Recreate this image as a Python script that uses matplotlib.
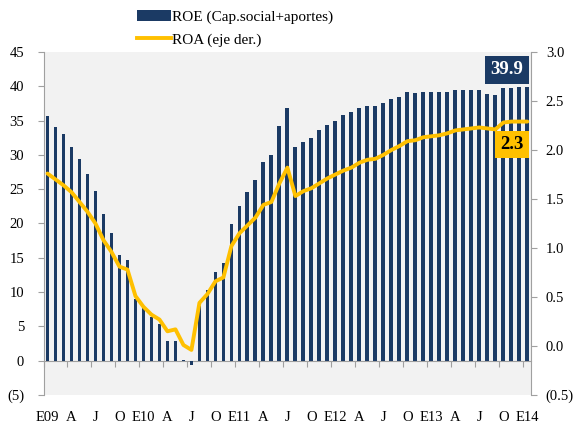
import numpy as np
import matplotlib
matplotlib.use('Agg')
import matplotlib.pyplot as plt
import matplotlib.transforms as mtransforms
from matplotlib.lines import Line2D
from matplotlib.patches import Patch

plt.rcParams['font.family'] = ['Liberation Serif', 'DejaVu Serif']

# ROE mensual (eje izq.) ene-2009 .. ene-2014
roe = [35.7, 34.1, 33.0, 31.1, 29.4, 27.2, 24.8, 21.4, 18.6, 15.4, 14.7, 9.0,
       7.9, 6.3, 5.3, 2.9, 2.9, 0.15, -0.6, 8.0, 10.3, 13.0, 14.2, 19.9,
       22.6, 24.6, 26.4, 29.0, 30.0, 34.2, 36.8, 31.2, 31.9, 32.5, 33.6, 34.4,
       34.9, 35.8, 36.3, 36.9, 37.1, 37.1, 37.5, 38.1, 38.5, 39.1, 39.0, 39.1,
       39.1, 39.2, 39.1, 39.4, 39.4, 39.4, 39.4, 38.9, 38.7, 39.8, 39.8, 39.9,
       39.9]
# ROA (eje der.)
roa = [1.76, 1.70, 1.64, 1.57, 1.47, 1.37, 1.25, 1.08, 0.96, 0.81, 0.78, 0.51,
       0.40, 0.32, 0.27, 0.15, 0.17, 0.01, -0.04, 0.44, 0.53, 0.66, 0.70, 1.02,
       1.15, 1.23, 1.31, 1.44, 1.47, 1.66, 1.82, 1.53, 1.58, 1.61, 1.66, 1.71,
       1.75, 1.79, 1.82, 1.87, 1.90, 1.91, 1.95, 2.00, 2.04, 2.09, 2.10, 2.13,
       2.14, 2.15, 2.17, 2.20, 2.21, 2.22, 2.23, 2.22, 2.21, 2.28, 2.29, 2.29,
       2.29]
month_labels = ['E09', 'A', 'J', 'O', 'E10', 'A', 'J', 'O', 'E11', 'A', 'J', 'O',
                'E12', 'A', 'J', 'O', 'E13', 'A', 'J', 'O', 'E14']
left_ticks = [-5, 0, 5, 10, 15, 20, 25, 30, 35, 40, 45]
left_labels = ['(5)', '0', '5', '10', '15', '20', '25', '30', '35', '40', '45']
right_ticks = [-0.5, 0.0, 0.5, 1.0, 1.5, 2.0, 2.5, 3.0]
right_labels = ['(0.5)', '0.0', '0.5', '1.0', '1.5', '2.0', '2.5', '3.0']

navy = '#1B3A64'
gold = '#FFC000'
grey = '#A0A0A0'

x = np.arange(len(roe))

fig = plt.figure(figsize=(5.73, 4.26), dpi=100)
ax = fig.add_axes([43.5 / 573, 31 / 426, 487 / 573, 343 / 426])
ax.set_facecolor('#F2F2F2')
ax.bar(x, roe, width=0.48, color=navy, zorder=2)
ax.set_xlim(-0.48, 60.4)
ax.set_ylim(-5, 45)

for s in ['top', 'right']:
    ax.spines[s].set_visible(False)
ax.spines['left'].set_color(grey)
ax.spines['bottom'].set_position(('data', 0))
ax.spines['bottom'].set_color(grey)
ax.spines['bottom'].set_zorder(1)

ax.set_yticks(left_ticks)
ax.set_yticklabels(left_labels)
ax.tick_params(axis='y', length=4, color=grey, pad=10, labelsize=10.5)
ax.set_xticks(np.arange(-0.5, 61, 3))
ax.set_xticklabels([])
ax.tick_params(axis='x', length=4, color=grey, direction='out')

trans = mtransforms.blended_transform_factory(ax.transData, ax.transAxes)
for i, lab in enumerate(month_labels):
    ax.text(i * 3, -0.065, lab, transform=trans, ha='center', va='center', fontsize=10.5)

ax2 = ax.twinx()
ax2.set_ylim(-0.5, 3.0)
ax2.plot(x, roa, color=gold, lw=2.8, solid_joinstyle='round', solid_capstyle='round', zorder=3)
for s in ['top', 'left', 'bottom']:
    ax2.spines[s].set_visible(False)
ax2.spines['right'].set_color(grey)
ax2.set_yticks(right_ticks)
ax2.set_yticklabels(right_labels)
ax2.tick_params(axis='y', length=4, color=grey, pad=7, labelsize=10.5)

# etiquetas de último dato
ax.text(x[-1] - 0.5, roe[-1] + 2.5, f'{roe[-1]:.1f}', ha='right', va='center',
        color='white', fontsize=13.5, fontweight='bold', zorder=5,
        bbox=dict(boxstyle='square,pad=0.28', fc=navy, ec='none'))
ax2.text(x[-1] - 0.5, roa[-1] - 0.235, f'{roa[-1]:.1f}', ha='right', va='center',
         color='black', fontsize=13.5, fontweight='bold', zorder=5,
         bbox=dict(boxstyle='square,pad=0.28', fc=gold, ec='none'))

handles = [Patch(facecolor=navy, label='ROE (Cap.social+aportes)'),
           Line2D([0], [0], color=gold, lw=2.8, label='ROA (eje der.)')]
fig.legend(handles=handles, loc='upper left', bbox_to_anchor=(127 / 573, 1.0),
           frameon=False, fontsize=11, handlelength=2.2, handletextpad=0.1,
           labelspacing=0.6, borderaxespad=0.25)

fig.savefig('out.png', dpi=100)
